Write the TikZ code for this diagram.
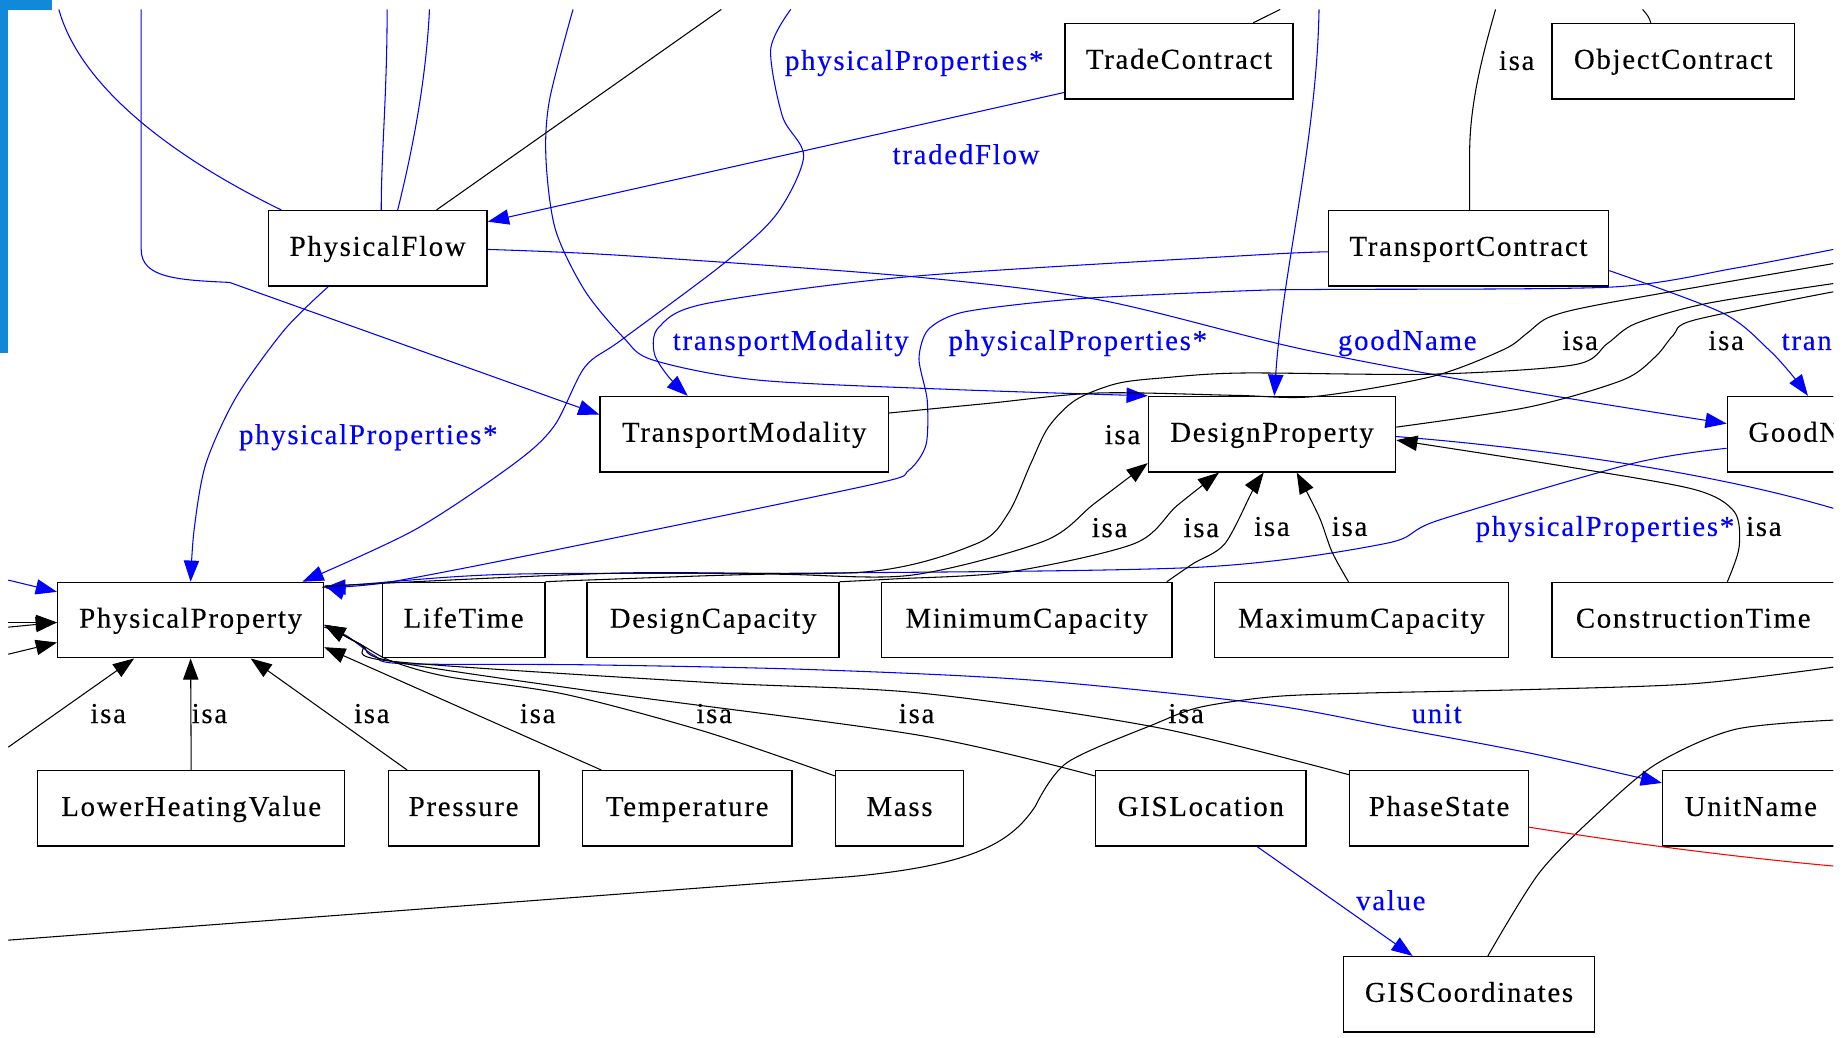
\documentclass[tikz,border=0pt]{standalone}
\usepackage{fontspec}
\setmainfont{Liberation Serif}[LetterSpace=6,FakeBold=0.3]
\usetikzlibrary{arrows.meta}
\definecolor{barblue}{RGB}{18,137,216}
\newcommand\gvfont{\fontsize{24.5}{29}\selectfont}
\tikzset{
  cls/.style={draw=black, line width=1.2pt, rectangle, minimum height=64pt, inner sep=0pt,
              font=\gvfont, text height=1.42em, text depth=0.13em},
  lab/.style={inner sep=0pt, font=\gvfont, text height=1.42em, text depth=0.13em},
  bl/.style={draw=blue, line width=0.9pt},
  bk/.style={draw=black, line width=0.9pt},
  arr/.style={-{Triangle[length=18pt,width=13pt]}},
}
\begin{document}
\begin{tikzpicture}[x=1pt,y=-1pt]
\useasboundingbox (0,0) rectangle (1568,882);
\fill[white] (0,0) rectangle (1568,882);
\begin{scope}
\clip (7,8.5) rectangle (1558,882);
% ---------- nodes ----------
\node[cls, minimum width=186pt] (PF)   at (321,211)    {PhysicalFlow};
\node[cls, minimum width=194pt] (TrC)  at (1002,52)    {TradeContract};
\node[cls, minimum width=206pt] (OC)   at (1422,52)    {ObjectContract};
\node[cls, minimum width=238pt] (TpC)  at (1248,211)   {TransportContract};
\node[cls, minimum width=245pt] (TM)   at (632.5,369)  {TransportModality};
\node[cls, minimum width=210pt] (DP)   at (1081,369)   {DesignProperty};
\node[cls, minimum width=159pt] (GN)   at (1547.5,369) {GoodName};
\node[cls, minimum width=226pt] (PP)   at (162,527)    {PhysicalProperty};
\node[cls, minimum width=138pt] (LT)   at (394,527)    {LifeTime};
\node[cls, minimum width=214pt] (DC)   at (606,527)    {DesignCapacity};
\node[cls, minimum width=247pt] (MinC) at (872.5,527)  {MinimumCapacity};
\node[cls, minimum width=250pt] (MaxC) at (1157,527)   {MaximumCapacity};
\node[cls, minimum width=240pt] (CT)   at (1439,527)   {ConstructionTime};
\node[cls, minimum width=261pt] (LHV)  at (162.5,687)  {LowerHeatingValue};
\node[cls, minimum width=128pt] (PR)   at (394,687)    {Pressure};
\node[cls, minimum width=178pt] (TE)   at (584,687)    {Temperature};
\node[cls, minimum width=109pt] (MA)   at (764.5,687)  {Mass};
\node[cls, minimum width=179pt] (GL)   at (1020.5,687) {GISLocation};
\node[cls, minimum width=152pt] (PS)   at (1223,687)   {PhaseState};
\node[cls, minimum width=150pt] (UN)   at (1488,687)   {UnitName};
\node[cls, minimum width=213pt] (GC)   at (1248.5,845) {GISCoordinates};
% ---------- free ends ----------
\coordinate (t1) at (50,8);
\coordinate (t2) at (120,8);
\coordinate (t3) at (329,8);
\coordinate (t4) at (365,8);
\coordinate (t5) at (613,8);
\coordinate (t6) at (487,8);
\coordinate (t7) at (672,8);
\coordinate (t12) at (1558,212);
\coordinate (t13) at (1121,8);
\coordinate (t15) at (1558,432);
\coordinate (t16) at (1088,8);
\coordinate (t17) at (1396,8);
\coordinate (t18) at (1271,8);
\coordinate (t19) at (1558,241);
\coordinate (t20) at (1558,248);
\coordinate (t21) at (1558,224);
\coordinate (t22) at (7,635);
\coordinate (t23) at (1558,567);
\coordinate (t24) at (7,799);
\coordinate (t25) at (1558,612);
\coordinate (t26) at (1558,736);
\coordinate (t27) at (7,493);
\coordinate (t28) at (7,529);
\coordinate (t28b) at (7,533);
\coordinate (t29) at (7,556);
% ---------- blue edges ----------
\draw[bl] (t1) .. controls (70,80) and (160,140) .. ([xshift=-82pt]PF.north);
\draw[bl,arr] (t2) -- (120,212) .. controls (120,236) and (150,238) .. (195,240) -- ([yshift=-16pt]TM.north west);
\draw[bl] (t3) .. controls (329,80) and (324,130) .. ([xshift=3pt]PF.north);
\draw[bl] (t4) .. controls (362,70) and (350,130) .. ([xshift=17pt]PF.north);
\draw[bl,arr] plot[smooth, tension=0.5] coordinates {(t6) (467,85) (464,135) (472,195) (497,247) (530,287) (555,306) (644,323) (809,331) (DP.north west)};
\draw[bl,arr] plot[smooth, tension=0.5] coordinates {(t7) (655,42) (665,99) (683,133) (660,182) (615,224) (528,289) (497,312) (471,362) (437,394) (353,450) ([xshift=95pt]PP.north)};
\draw[bl,arr] ([yshift=6pt]TrC.south west) -- ([yshift=-10pt]PF.north east);
\draw[bl,arr] plot[smooth] coordinates {([xshift=-42pt]PF.south) (242,280) (201,337) (175,394) (165,450) (PP.north)};
\draw[bl,arr] plot[smooth] coordinates {([yshift=-3pt]TpC.west) (1062,217) (774,235) (600,258) (560,278) (556,300) (568,320) ([xshift=-48pt]TM.north)};
\draw[bl,arr] plot[smooth] coordinates {([yshift=-1pt]PF.east) (527,217) (774,235) (935,255) (1108,297) (1300,333) ([yshift=9pt]GN.west)};
\draw[bl,arr] plot[smooth, tension=0.45] coordinates {(t12) (1474,228) (1369,244) (1124,246) (1062,247) (915,254) (820,265) (789,280) (781,305) (788,340) (787,378) (772,400) (740,412) (459,470) (329,495) ([yshift=-5pt]PP.north east)};
\draw[bl,arr] (t13) .. controls (1119,120) and (1090,230) .. ([xshift=2pt]DP.north);
\draw[bl,arr] plot[smooth] coordinates {([yshift=-19pt]TpC.east) (1464,266) (1503,297) (1524,320) ([xshift=-11pt]GN.north)};
\draw[bl] ([yshift=-2pt]DP.east) .. controls (1300,380) and (1450,400) .. (t15);
\draw[bl,arr] plot[smooth] coordinates {([yshift=-12pt]GN.west) (1387,394) (1223,442) (1177,462) (1020,482) (700,487) (433,488) (300,497) ([yshift=-3pt]PP.north east)};
\draw[bl,arr] plot[smooth] coordinates {([yshift=-6pt]PP.east) (294,540) (318,557) (342,564) (498,565) (688,569) (877,578) (1072,598) (1183,618) (1300,640) ([yshift=-11pt]UN.north west)};
\draw[bl,arr] ([xshift=48pt]GL.south) -- ([xshift=-48pt]GC.north);
\draw[bl,arr] (t27) -- ([yshift=24pt]PP.west);
% ---------- black edges ----------
\draw[bk] ([xshift=50pt]PF.north) -- (t5);
\draw[bk] ([xshift=63pt]TrC.north) -- (t16);
\draw[bk] ([xshift=-19pt]OC.north) .. controls (1401,14) .. (t17);
\draw[bk] ([xshift=1pt]TpC.north) -- (1249,130) .. controls (1249,85) and (1262,40) .. (t18);
\draw[bk] plot[smooth] coordinates {([yshift=-5pt]PP.north east) (300,497) (527,487) (736,486) (830,462) (857,436) (876,394) (891,363) (914,340) (949,326) (990,321) (1056,317) (1217,318) (1338,310) (1366,292) (1390,275) (1450,258) (t19)};
\draw[bk,arr] plot[smooth] coordinates {(LT.north east) (498,493) (650,488) (773,489) (887,460) (930,428) ([yshift=8pt]DP.south west)};
\draw[bk,arr] plot[smooth] coordinates {(DC.north east) (760,492) (858,486) (964,462) (1000,430) ([xshift=-45pt]DP.south)};
\draw[bk,arr] plot[smooth] coordinates {([xshift=-5pt]MinC.north east) (1014,479) (1041,462) (1065,416) ([xshift=-7pt]DP.south)};
\draw[bk,arr] plot[smooth] coordinates {([xshift=-11pt]MaxC.north) (1132,469) (1121,439) ([xshift=21pt]DP.south)};
\draw[bk,arr] plot[smooth] coordinates {([xshift=29pt]CT.north) (1478,465) (1474,435) (1440,416) (1334,397) ([yshift=-5pt]DP.east)};
\draw[bk] plot[smooth] coordinates {([yshift=6pt]DP.east) (1299,346) (1379,323) (1407,303) (1422,285) (1440,272) (t20)};
\draw[bk] plot[smooth] coordinates {([yshift=18pt]TM.east) (838,343) (933,334) (1050,336) (1117,337) (1217,320) (1278,297) (1298,283) (1318,269) (1369,257) (t21)};
\draw[bk,arr] (t22) -- ([xshift=-48pt]PP.south);
\draw[bk,arr] (LHV.north) -- (PP.south);
\draw[bk,arr] ([xshift=-48pt]PR.north) -- ([xshift=51pt]PP.south);
\draw[bk,arr] ([xshift=-73pt]TE.north) -- ([yshift=-23pt]PP.east);
\draw[bk,arr] plot[smooth] coordinates {([yshift=-5pt]MA.north west) (600,622) (480,590) (380,575) (333,562) (307,548) ([yshift=-4pt]PP.east)};
\draw[bk,arr] plot[smooth] coordinates {([yshift=-5pt]GL.north west) (782,625) (515,589) (333,562) (307,548) ([yshift=-4pt]PP.east)};
\draw[bk,arr] plot[smooth] coordinates {([yshift=-4pt]PS.north west) (982,618) (782,589) (602,580) (333,562) (307,548) ([yshift=-4pt]PP.east)};
\draw[bk] plot[smooth] coordinates {(t23) (1440,581) (1300,586) (1160,589) (1083,592) (1020,601) (982,615) (907,648) (880,685)}
   .. controls (860,715) and (830,735) .. (723,745) -- (t24);
\draw[bk] plot[smooth] coordinates {([xshift=16pt]GC.north) (1308,742) (1358,691) (1408,649) (1474,620) (t25)};
\draw[red, line width=0.9pt] ([yshift=-16pt]PS.east) .. controls (1380,716) and (1470,728) .. (t26);
\draw[bk,arr] (t28) -- ([yshift=-2pt]PP.west);
\draw[bk,arr] (t28b) -- ([yshift=-2pt]PP.west);
\draw[bk,arr] (t29) -- ([yshift=-19pt]PP.west);
% ---------- labels ----------
\node[lab, text=blue] (l1)  at (777,53)   {physicalProperties*};
\node[lab, text=blue] (l2)  at (821,133)  {tradedFlow};
\node[lab, text=blue] (l3)  at (672,291)  {transportModality};
\node[lab, text=blue] (l4)  at (916,291)  {physicalProperties*};
\node[lab, text=blue] (l5)  at (1196,291) {goodName};
\node[lab, text=blue, anchor=west] (l6) at (1514,291) {tran};
\node[lab, text=blue] (l7)  at (313,371)  {physicalProperties*};
\node[lab, text=blue] (l8)  at (1364,449) {physicalProperties*};
\node[lab, text=blue] (l9)  at (1221,608) {unit};
\node[lab, text=blue] (l10) at (1182,767) {value};
\node[lab] (i1)  at (1289,53)  {isa};
\node[lab] (i2)  at (1343,291) {isa};
\node[lab] (i3)  at (1467,291) {isa};
\node[lab] (i4)  at (954,371)  {isa};
\node[lab] (i5)  at (943,450)  {isa};
\node[lab] (i6)  at (1021,450) {isa};
\node[lab] (i7)  at (1081,449) {isa};
\node[lab] (i8)  at (1147,449) {isa};
\node[lab] (i9)  at (1499,449) {isa};
\node[lab] (i10) at (92,608)   {isa};
\node[lab] (i11) at (178,608)  {isa};
\node[lab] (i12) at (316,608)  {isa};
\node[lab] (i13) at (457,608)  {isa};
\node[lab] (i14) at (607,608)  {isa};
\node[lab] (i15) at (779,608)  {isa};
\node[lab] (i16) at (1008,608) {isa};
\end{scope}
% ---------- screen frame ----------
\fill[barblue] (0,0) rectangle (7,300);
\fill[barblue] (0,0) rectangle (44,8.5);
\end{tikzpicture}
\end{document}
